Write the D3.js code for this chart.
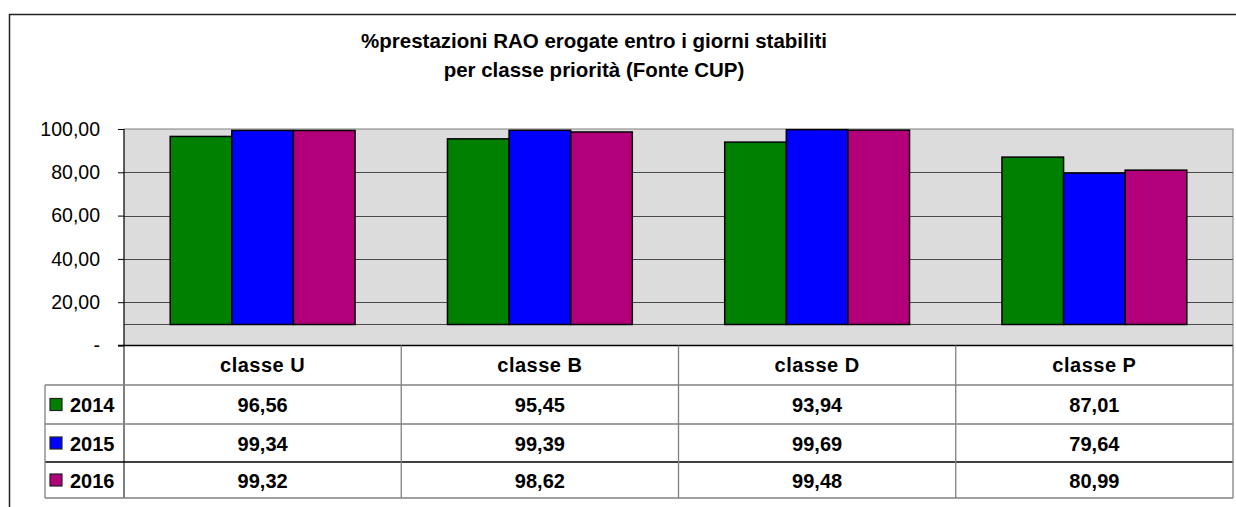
<!DOCTYPE html>
<html>
<head>
<meta charset="utf-8">
<script src="https://cdn.jsdelivr.net/npm/d3@7"></script>
<style>
  body { margin: 0; background: #fff; }
  text { font-family: "Liberation Sans", Arial, sans-serif; fill: #000; }
</style>
</head>
<body>
<div id="chart"></div>
<script>
// Data
const categories = ["classe U", "classe B", "classe D", "classe P"];
const years = ["2014", "2015", "2016"];
const values2014 = [96.56, 95.45, 93.94, 87.01];
const values2015 = [99.34, 99.39, 99.69, 79.64];
const values2016 = [99.32, 98.62, 99.48, 80.99];
const seriesColors = ["#008000", "#0000FF", "#B3007A"];
const yTicks = [0, 20, 40, 60, 80, 100];
const axisCross = 9.7; // category axis crosses value axis here
const titleLines = ["%prestazioni RAO erogate entro i giorni stabiliti", "per classe priorità (Fonte CUP)"];

const series = [values2014, values2015, values2016];
const fmt = v => v.toFixed(2).replace(".", ",");

const width = 1236, height = 507;
const plot = { left: 124, right: 1233, top: 129, bottom: 345.5 };

const svg = d3.select("#chart")
    .append("svg")
    .attr("width", width)
    .attr("height", height);

// Chart area border (cropped on the right and bottom)
svg.append("path")
    .attr("d", `M9.5,${height} V14.5 H${width}`)
    .attr("fill", "none")
    .attr("stroke", "#222")
    .attr("stroke-width", 1.5);

// Title
svg.append("g").selectAll("text")
    .data(titleLines)
    .join("text")
    .attr("x", 594)
    .attr("y", (d, i) => 48 + i * 29)
    .attr("text-anchor", "middle")
    .style("font-size", "20.5px")
    .style("font-weight", "bold")
    .text(d => d);

// Scales
const yScale = d3.scaleLinear()
    .domain([0, 100])
    .range([plot.bottom, plot.top]);

const xScale = d3.scaleBand()
    .domain(categories)
    .range([plot.left, plot.right])
    .padding(0);

const xSub = d3.scaleBand()
    .domain(years)
    .range([0, xScale.bandwidth()])
    .paddingInner(0)
    .paddingOuter(0.75);

// Plot background
svg.append("rect")
    .attr("x", plot.left)
    .attr("y", plot.top)
    .attr("width", plot.right - plot.left)
    .attr("height", plot.bottom - plot.top)
    .attr("fill", "#DCDCDC")
    .attr("stroke", "#808080")
    .attr("stroke-width", 1);

// Gridlines
svg.append("g").selectAll("line")
    .data(yTicks.filter(t => t > 0 && t < 100).concat([axisCross]))
    .join("line")
    .attr("x1", plot.left)
    .attr("x2", plot.right)
    .attr("y1", d => Math.round(yScale(d)) + 0.5)
    .attr("y2", d => Math.round(yScale(d)) + 0.5)
    .attr("stroke", "#4a4a4a")
    .attr("stroke-width", 1.2);

// Left axis
const leftAxis = d3.axisLeft(yScale)
    .tickValues(yTicks)
    .tickSize(6)
    .tickPadding(18)
    .tickFormat(d => d === 0 ? "-" : fmt(d));

const axisG = svg.append("g")
    .attr("transform", `translate(${plot.left}, 0)`)
    .call(leftAxis);
axisG.select(".domain").attr("stroke", "#000").attr("d", `M0,${plot.top} V498`);
axisG.selectAll(".tick line").attr("stroke", "#000");
axisG.selectAll(".tick text")
    .style("font-size", "19.5px")
    .style("font-family", "'Liberation Sans', Arial, sans-serif")
    .attr("fill", "#000");

// Bars
const barData = [];
categories.forEach((c, ci) => {
    years.forEach((y, si) => {
        barData.push({ cat: c, year: y, si: si, value: series[si][ci] });
    });
});

svg.append("g").selectAll("rect")
    .data(barData)
    .join("rect")
    .attr("x", d => xScale(d.cat) + xSub(d.year))
    .attr("y", d => yScale(d.value))
    .attr("width", xSub.bandwidth())
    .attr("height", d => yScale(axisCross) - yScale(d.value))
    .attr("fill", d => seriesColors[d.si])
    .attr("stroke", "#000")
    .attr("stroke-width", 1.5);

// Data table
const rowTops = [345.5, 385, 424, 462, 498];
const table = svg.append("g");

// Horizontal lines
table.selectAll("line.h")
    .data(rowTops)
    .join("line")
    .attr("class", "h")
    .attr("x1", (d, i) => i === 0 ? plot.left - 6 : (i === 1 ? 45 : 45))
    .attr("x2", plot.right)
    .attr("y1", d => d)
    .attr("y2", d => d)
    .attr("stroke", (d, i) => i === 3 || i === 0 ? "#000" : "#808080")
    .attr("stroke-width", 1.3);

// first horizontal line only spans from axis
table.select("line.h").attr("x1", plot.left - 6);

// Vertical lines
const vLines = categories.map(c => xScale(c) + xScale.bandwidth());
table.selectAll("line.v")
    .data(vLines)
    .join("line")
    .attr("class", "v")
    .attr("x1", d => d)
    .attr("x2", d => d)
    .attr("y1", plot.bottom)
    .attr("y2", 498)
    .attr("stroke", "#808080")
    .attr("stroke-width", 1.3);

table.append("line")
    .attr("x1", 45).attr("x2", 45)
    .attr("y1", 385).attr("y2", 498)
    .attr("stroke", "#808080")
    .attr("stroke-width", 1.3);

// Header texts
table.selectAll("text.cat")
    .data(categories)
    .join("text")
    .attr("class", "cat")
    .attr("x", d => xScale(d) + xScale.bandwidth() / 2)
    .attr("y", 372)
    .attr("text-anchor", "middle")
    .style("font-size", "20px")
    .style("font-weight", "bold")
    .style("letter-spacing", "0.5px")
    .text(d => d);

// Legend keys and year labels
years.forEach((y, si) => {
    const top = rowTops[si + 1];
    const mid = (top + rowTops[si + 2]) / 2;
    table.append("rect")
        .attr("x", 50)
        .attr("y", mid - 6)
        .attr("width", 12)
        .attr("height", 12)
        .attr("fill", seriesColors[si])
        .attr("stroke", "#222")
        .attr("stroke-width", 1.2);
    table.append("text")
        .attr("x", 70)
        .attr("y", mid + 7.5)
        .style("font-size", "20px")
        .style("font-weight", "bold")
        .text(y);

    table.selectAll(`text.val${si}`)
        .data(series[si])
        .join("text")
        .attr("class", `val${si}`)
        .attr("x", (d, ci) => xScale(categories[ci]) + xScale.bandwidth() / 2)
        .attr("y", mid + 7.5)
        .attr("text-anchor", "middle")
        .style("font-size", "20px")
        .style("font-weight", "bold")
        .text(d => fmt(d));
});
</script>
</body>
</html>
